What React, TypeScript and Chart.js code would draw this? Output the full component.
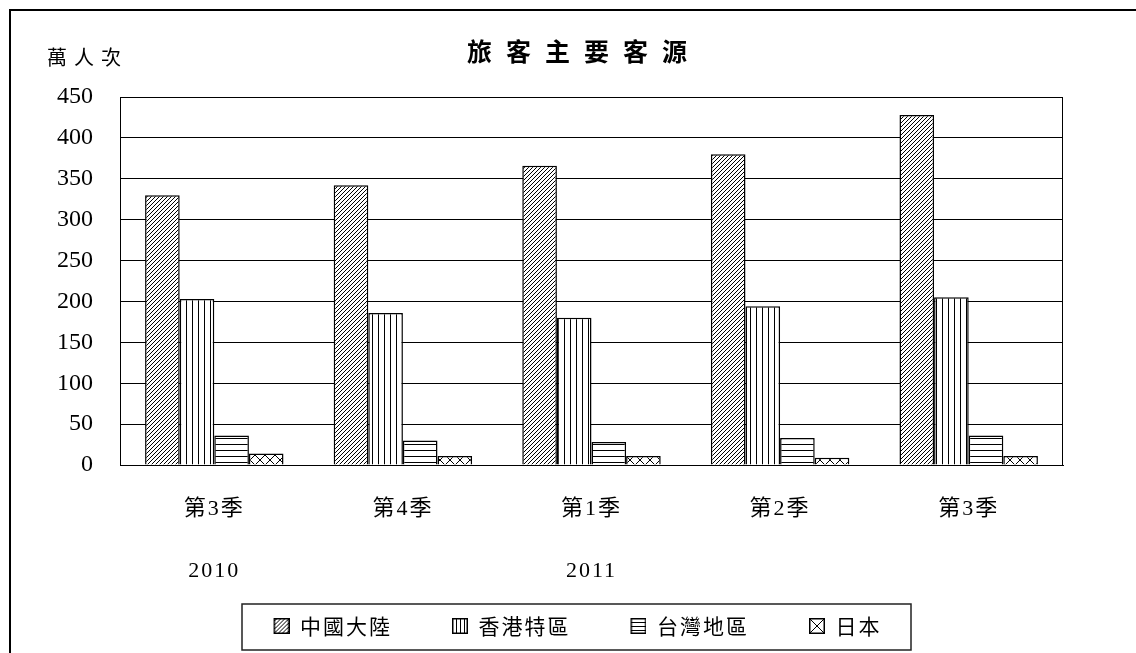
import React, { useEffect, useRef } from 'react';
import { Chart, registerables } from 'chart.js';

Chart.register(...registerables);

// ---------- data ----------
const quarters = ['第3季', '第4季', '第1季', '第2季', '第3季'];
const years = ['2010', '', '2011', '', ''];
const seriesNames = ['中國大陸', '香港特區', '台灣地區', '日本'];
const mainland = [330, 342, 366, 380, 428];
const hongKong = [203, 186, 180, 194, 205];
const taiwan = [36, 30, 28, 33, 36];
const japan = [14, 11, 11, 9, 11];
const yMin = 0;
const yMax = 450;
const yStep = 50;
const chartTitle = '旅客主要客源';
const unitLabel = '萬人次';

// ---------- helpers ----------
function drawHatch(g: CanvasRenderingContext2D, kind: string, size: number) {
  g.strokeStyle = '#000';
  g.fillStyle = '#000';
  g.lineWidth = 1;
  if (kind === 'diag') {
    g.beginPath();
    g.moveTo(-1, size + 1);
    g.lineTo(size + 1, -1);
    g.moveTo(-1, 1);
    g.lineTo(1, -1);
    g.moveTo(size - 1, size + 1);
    g.lineTo(size + 1, size - 1);
    g.stroke();
  } else if (kind === 'vert') {
    g.fillRect(0, 0, 1, size);
  } else if (kind === 'horz') {
    g.fillRect(0, 0, size, 1);
  } else if (kind === 'cross') {
    g.beginPath();
    g.moveTo(0, 0);
    g.lineTo(size, size);
    g.moveTo(size, 0);
    g.lineTo(0, size);
    g.stroke();
  }
}

function tileSize(kind: string) {
  return kind === 'diag' ? 4 : kind === 'cross' ? 10 : 6;
}

function makePattern(kind: string, swatch = false): CanvasPattern | string {
  const size = swatch ? (kind === 'cross' ? 16 : 4) : tileSize(kind);
  const c = document.createElement('canvas');
  c.width = size;
  c.height = size;
  const g = c.getContext('2d');
  if (!g) return '#fff';
  g.fillStyle = '#fff';
  g.fillRect(0, 0, size, size);
  drawHatch(g, kind, size);
  return g.createPattern(c, 'repeat') || '#fff';
}

const SW_GAP = 40;
const SW = 16;

function makeSwatch(kind: string): HTMLCanvasElement {
  const c = document.createElement('canvas');
  c.width = SW_GAP + SW;
  c.height = SW;
  const g = c.getContext('2d');
  if (!g) return c;
  g.save();
  g.translate(SW_GAP, 0);
  const pat = makePattern(kind, true);
  g.fillStyle = pat as any;
  g.fillRect(0, 0, SW, SW);
  g.restore();
  g.strokeStyle = '#000';
  g.lineWidth = 1.5;
  g.strokeRect(SW_GAP + 0.75, 0.75, SW - 1.5, SW - 1.5);
  return c;
}

function spacingFor(font: string): string {
  if (font.indexOf('CJK') < 0) return '0px';
  if (/\b25px/.test(font)) return '14px';
  if (/\b20px/.test(font)) return '7px';
  if (/\b21px/.test(font)) return '2px';
  if (/\b22px/.test(font)) return '2px';
  return '0px';
}

const CJK = '"Noto Sans CJK TC"';
const kinds = ['diag', 'vert', 'horz', 'cross'];

export default function App() {
  const ref = useRef<HTMLCanvasElement>(null);

  useEffect(() => {
    const canvas = ref.current;
    if (!canvas) return;
    const ctx = canvas.getContext('2d') as any;
    const P = CanvasRenderingContext2D.prototype as any;
    ctx.fillText = function (t: string, x: number, y: number, mw?: number) {
      this.letterSpacing = spacingFor(this.font);
      return mw === undefined ? P.fillText.call(this, t, x, y) : P.fillText.call(this, t, x, y, mw);
    };
    ctx.measureText = function (t: string) {
      this.letterSpacing = spacingFor(this.font);
      return P.measureText.call(this, t);
    };

    const labels = quarters.map((q, i) => [q, '', years[i]]);
    const fills = kinds.map((k) => makePattern(k));
    const swatches = kinds.map((k) => makeSwatch(k));
    const values = [mainland, hongKong, taiwan, japan];

    const decor = {
      id: 'decor',
      beforeDraw(chart: any) {
        const c = chart.ctx;
        c.save();
        c.fillStyle = '#fff';
        c.fillRect(0, 0, chart.width, chart.height);
        c.strokeStyle = '#000';
        c.lineWidth = 2;
        c.strokeRect(10, 10, chart.width + 40, chart.height + 40);
        c.restore();
      },
      afterDraw(chart: any) {
        const c = chart.ctx;
        const a = chart.chartArea;
        c.save();
        c.strokeStyle = '#000';
        c.lineWidth = 1;
        c.strokeRect(Math.round(a.left) + 0.5, Math.round(a.top) + 0.5, Math.round(a.right - a.left) - 1, Math.round(a.bottom - a.top));
        const hb = chart.legend && chart.legend.legendHitBoxes;
        if (hb && hb.length) {
          const first = hb[0];
          const last = hb[hb.length - 1];
          const l = first.left + SW_GAP - 32;
          const r = last.left + last.width + 29;
          const t = first.top - 11.5;
          c.lineWidth = 1.5;
          c.strokeStyle = '#222';
          c.strokeRect(Math.round(l), Math.round(t), Math.round(r - l), 46);
        }
        c.fillStyle = '#000';
        c.textBaseline = 'middle';
        c.textAlign = 'left';
        c.font = `bold 25px ${CJK}`;
        c.fillText(chartTitle, 467, 51);
        c.font = `20px ${CJK}`;
        c.fillText(unitLabel, 47, 57);
        c.restore();
      },
    };

    const chart = new Chart(ctx, {
      type: 'bar',
      data: {
        labels,
        datasets: seriesNames.map((name, i) => ({
          label: name,
          data: values[i],
          backgroundColor: fills[i] as any,
          borderColor: '#000',
          borderWidth: 1.5,
          categoryPercentage: 0.734,
          barPercentage: 1,
        })),
      },
      options: {
        animation: false,
        responsive: false,
        layout: { padding: { top: 97, left: 52, right: 73, bottom: 6.5 } },
        plugins: {
          title: { display: false },
          tooltip: { enabled: false },
          legend: {
            position: 'bottom',
            labels: {
              usePointStyle: true,
              pointStyleWidth: SW_GAP + SW,
              boxHeight: 16,
              padding: 20,
              color: '#000',
              font: { family: CJK, size: 21 },
              generateLabels(chart: any) {
                const base = (Chart.defaults.plugins.legend.labels as any).generateLabels(chart);
                return base.map((item: any, i: number) => ({ ...item, pointStyle: swatches[i] }));
              },
            },
          },
        },
        scales: {
          x: {
            grid: { display: false, drawTicks: false },
            border: { display: true, color: '#000', width: 1 },
            ticks: {
              color: '#000',
              padding: 29,
              maxRotation: 0,
              autoSkip: false,
              font: { family: `"Liberation Serif", ${CJK}`, size: 22, lineHeight: 31 / 22 },
            },
            afterFit(scale: any) {
              scale.height = 130.5;
            },
          },
          y: {
            min: yMin,
            max: yMax,
            grid: { color: '#000', lineWidth: 1, drawTicks: false },
            border: { display: true, color: '#000', width: 1 },
            ticks: {
              stepSize: yStep,
              color: '#000',
              padding: 27,
              font: { family: '"Liberation Serif"', size: 24 },
            },
            afterFit(scale: any) {
              scale.width = 68;
            },
          },
        },
      },
      plugins: [decor],
    } as any);

    return () => {
      chart.destroy();
    };
  }, []);

  return (
    <div style={{ position: 'fixed', left: 0, top: 0, width: 1136, height: 653, background: '#fff', overflow: 'hidden' }}>
      <canvas ref={ref} width={1136} height={653} style={{ display: 'block', width: 1136, height: 653 }} />
    </div>
  );
}
